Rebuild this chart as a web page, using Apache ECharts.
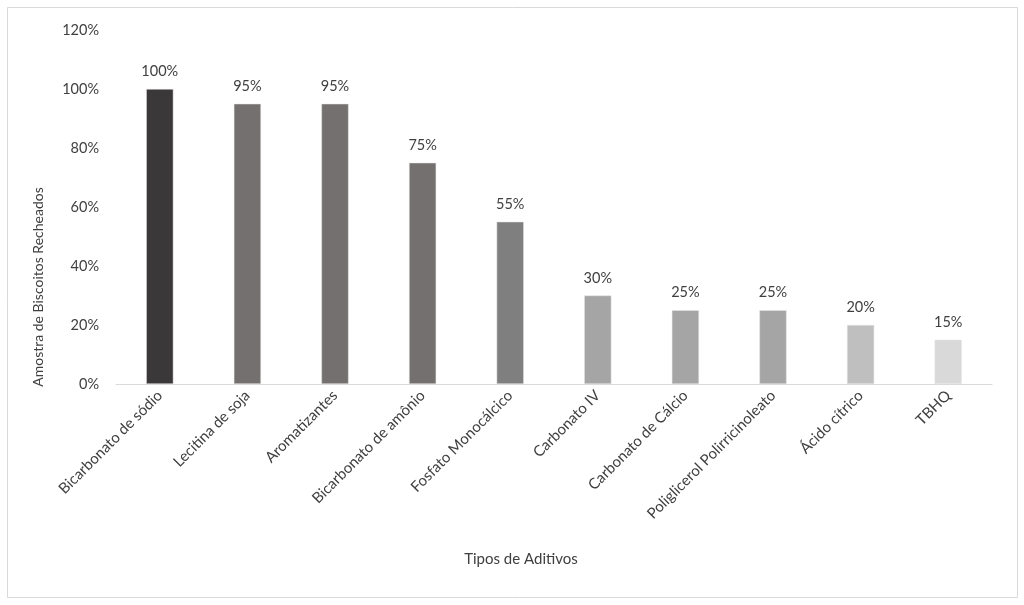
<!DOCTYPE html>
<html>
<head>
<meta charset="utf-8">
<script src="https://cdn.jsdelivr.net/npm/echarts@6/dist/echarts.min.js"></script>
<style>
  html, body { margin: 0; padding: 0; background: #fff; }
  #chart { width: 1024px; height: 605px; }
</style>
</head>
<body>
<div id="chart"></div>
<script>
// dados do gráfico
const categories = [
    'Bicarbonato de sódio', 'Lecitina de soja', 'Aromatizantes', 'Bicarbonato de amônio',
    'Fosfato Monocálcico', 'Carbonato IV', 'Carbonato de Cálcio', 'Poliglicerol Polirricinoleato',
    'Ácido cítrico', 'TBHQ'
];
const percentages = [100, 95, 95, 75, 55, 30, 25, 25, 20, 15];
const barColors = ['#3b3839', '#757070', '#757070', '#757070', '#7f7f7f',
    '#a5a5a5', '#a5a5a5', '#a5a5a5', '#bfbfbf', '#d9d9d9'];
const yTicks = [0, 20, 40, 60, 80, 100, 120];

const FONT = 'Lato, "Open Sans", sans-serif';
const TXT = '#404040';

const chart = echarts.init(document.getElementById('chart'));

const option = {
    animation: false,
    backgroundColor: '#fff',
    textStyle: { fontFamily: FONT },
    grid: { left: 116, right: 32, top: 30, bottom: 221 },
    xAxis: {
        type: 'category',
        data: categories,
        axisLine: { lineStyle: { color: '#d9d9d9', width: 1 } },
        axisTick: { show: false },
        axisLabel: {
            rotate: 45,
            interval: 0,
            margin: 9,
            color: TXT,
            fontSize: 15,
            fontFamily: FONT
        }
    },
    yAxis: {
        type: 'value',
        min: yTicks[0],
        max: yTicks[yTicks.length - 1],
        interval: 20,
        axisLine: { show: false },
        axisTick: { show: false },
        splitLine: { show: false },
        axisLabel: {
            formatter: '{value}%',
            color: TXT,
            fontSize: 14.5,
            margin: 17,
            fontFamily: FONT
        }
    },
    series: [{
        type: 'bar',
        barWidth: '31%',
        data: percentages.map((v, i) => ({
            value: v,
            itemStyle: { color: barColors[i], borderColor: '#e6e6e6', borderWidth: 0.5 }
        })),
        label: {
            show: true,
            position: 'top',
            distance: 10,
            formatter: '{c}%',
            color: TXT,
            fontSize: 14.5,
            fontFamily: FONT
        }
    }],
    graphic: [
        {
            type: 'rect',
            shape: { x: 7.5, y: 7.5, width: 1010, height: 590 },
            style: { fill: null, stroke: '#d9d9d9', lineWidth: 1 },
            silent: true
        },
        {
            type: 'text',
            x: 38,
            y: 287,
            rotation: Math.PI / 2,
            style: {
                text: 'Amostra de Biscoitos Recheados',
                fill: TXT,
                fontSize: 14,
                fontFamily: FONT,
                align: 'center',
                verticalAlign: 'middle'
            }
        },
        {
            type: 'text',
            x: 521,
            y: 559,
            style: {
                text: 'Tipos de Aditivos',
                fill: TXT,
                fontSize: 15,
                fontFamily: FONT,
                align: 'center',
                verticalAlign: 'middle'
            }
        }
    ]
};

chart.setOption(option);
</script>
</body>
</html>
